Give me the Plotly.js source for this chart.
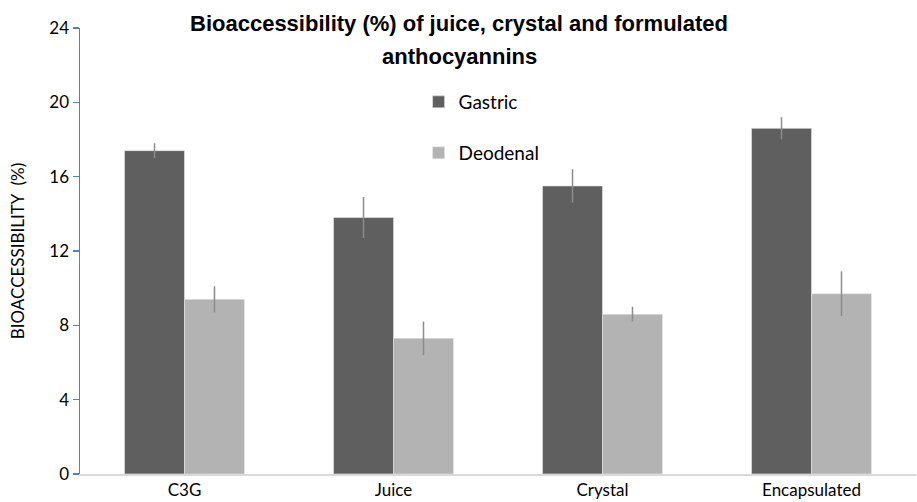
<!DOCTYPE html>
<html>
<head>
<meta charset="utf-8">
<script src="https://cdn.plot.ly/plotly-3.0.1.min.js"></script>
<style>html,body{margin:0;padding:0;background:#fff;}#chart{width:917px;height:502px;}</style>
</head>
<body>
<div id="chart"></div>
<script>
const categories = ["C3G", "Juice", "Crystal", "Encapsulated"];
const gastric = [17.4, 13.8, 15.5, 18.6];
const gastricErr = [0.4, 1.1, 0.9, 0.6];
const deodenal = [9.4, 7.3, 8.6, 9.7];
const deodenalErr = [0.7, 0.9, 0.4, 1.2];
const yTicks = [0, 4, 8, 12, 16, 20, 24];

const FONT = "Lato, 'Open Sans', sans-serif";

const traces = [
  {
    type: "bar", name: "Gastric", x: categories, y: gastric,
    marker: {color: "#5f5f5f", line: {color: "#e6e6e6", width: 0.6}},
    error_y: {type: "data", array: gastricErr, visible: true, color: "#8c8c8c", thickness: 1.5, width: 0},
    legend: "legend"
  },
  {
    type: "bar", name: "Deodenal", x: categories, y: deodenal,
    marker: {color: "#b3b3b3", line: {color: "#e6e6e6", width: 0.6}},
    error_y: {type: "data", array: deodenalErr, visible: true, color: "#8c8c8c", thickness: 1.5, width: 0},
    legend: "legend2"
  }
];

const layout = {
  width: 917, height: 502,
  margin: {l: 80, r: 1, t: 28, b: 28},
  paper_bgcolor: "#fff", plot_bgcolor: "#fff",
  font: {family: FONT, color: "#000", size: 16},
  barmode: "group", bargap: 0.426, bargroupgap: 0,
  xaxis: {
    showline: true, linecolor: "#d9d9d9", linewidth: 2,
    showgrid: false, ticks: "", tickfont: {size: 17, color: "#000"}
  },
  yaxis: {
    range: [0, 24], tickvals: yTicks, ticktext: yTicks.map(String),
    showgrid: false, zeroline: false,
    showline: true, linecolor: "#4f81bd", linewidth: 1.5,
    ticks: "outside", ticklen: 6, tickcolor: "#4f81bd", tickwidth: 1.5,
    tickfont: {size: 17, color: "#000"},
    title: {text: "BIOACCESSIBILITY  (%)", font: {size: 17, color: "#000"}, standoff: 20}
  },
  showlegend: true,
  legend: {x: 0.405, y: (474 - 102) / 446, xanchor: "left", yanchor: "middle",
           bgcolor: "rgba(0,0,0,0)", font: {size: 19, color: "#000"}},
  legend2: {x: 0.405, y: (474 - 153) / 446, xanchor: "left", yanchor: "middle",
            bgcolor: "rgba(0,0,0,0)", font: {size: 19, color: "#000"}},
  annotations: [
    {text: "<b>Bioaccessibility (%) of juice, crystal and formulated</b>", xref: "paper", yref: "paper",
     x: (459 - 80) / 836, y: (474 - 23) / 446, xanchor: "center", yanchor: "middle", showarrow: false,
     font: {family: "'Liberation Sans', Arial, sans-serif", size: 22, color: "#000"}},
    {text: "<b>anthocyannins</b>", xref: "paper", yref: "paper",
     x: (459 - 80) / 836, y: (474 - 57) / 446, xanchor: "center", yanchor: "middle", showarrow: false,
     font: {family: "'Liberation Sans', Arial, sans-serif", size: 22, color: "#000"}}
  ]
};

Plotly.newPlot("chart", traces, layout, {displayModeBar: false, staticPlot: true});
</script>
</body>
</html>
